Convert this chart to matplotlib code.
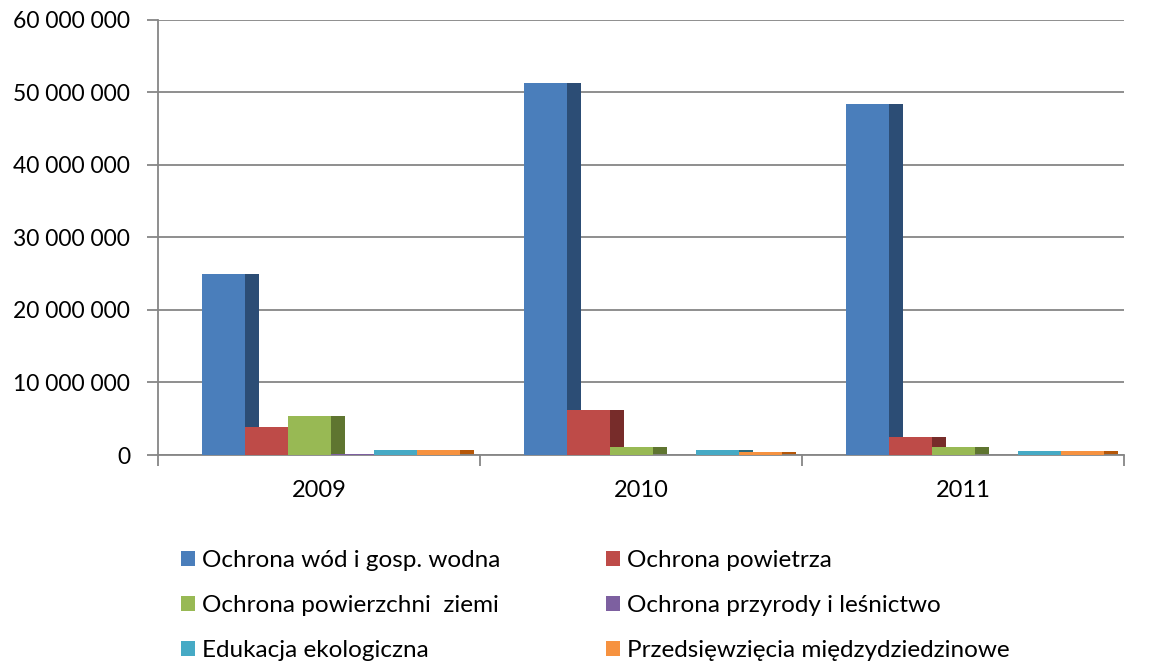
import numpy as np
import matplotlib.pyplot as plt
from matplotlib.ticker import FuncFormatter, MultipleLocator
from matplotlib.patches import Patch

plt.rcParams['font.family'] = ['Lato', 'DejaVu Sans']

years = ["2009", "2010", "2011"]
labels = ["Ochrona wód i gosp. wodna", "Ochrona powietrza",
          "Ochrona powierzchni  ziemi", "Ochrona przyrody i leśnictwo",
          "Edukacja ekologiczna", "Przedsięwzięcia międzydziedzinowe"]

woda = [24.9e6, 51.3e6, 48.4e6]
powietrze = [3.85e6, 6.2e6, 2.5e6]
ziemia = [5.4e6, 1.1e6, 1.1e6]
przyroda = [0.1e6, 0.05e6, 0.05e6]
edukacja = [0.7e6, 0.7e6, 0.5e6]
miedzy = [0.7e6, 0.35e6, 0.5e6]
series = [woda, powietrze, ziemia, przyroda, edukacja, miedzy]

front = ["#4A7EBB", "#BE4B48", "#98B954", "#7D60A0", "#46AAC5", "#F69240"]
side = ["#2C4D75", "#772C2A", "#5F7530", "#4D3B63", "#2B6A7C", "#B65708"]

fig = plt.figure(figsize=(11.56, 6.63), dpi=100)
ax = fig.add_axes([0.1367, 0.3137, 0.836, 0.6563])

x = np.arange(len(years))
w = 0.1335
d = 0.0435
start = -0.363
for k, vals in enumerate(series):
    left = x + start + k * w
    ax.bar(left + w, vals, width=d, align='edge', color=side[k], zorder=2, lw=0)
    ax.bar(left, vals, width=w, align='edge', color=front[k], zorder=3, lw=0)

ax.set_xlim(-0.5, 2.5)
ax.set_ylim(0, 60e6)
ax.yaxis.set_major_locator(MultipleLocator(10e6))
ax.yaxis.set_major_formatter(FuncFormatter(lambda v, p: f"{int(v):,}".replace(",", " ")))
ax.set_xticks(x)
ax.set_xticklabels(years)
ax.set_xticks([-0.5, 0.5, 1.5, 2.5], minor=True)
ax.tick_params(axis='x', which='major', length=0, pad=18, labelsize=17)
ax.tick_params(axis='x', which='minor', length=8, width=1.3, color="#868686")
ax.tick_params(axis='y', length=8, width=1.3, color="#868686", labelsize=16.5, pad=12)
ax.grid(axis='y', color="#868686", lw=1.3, zorder=0)
ax.set_axisbelow(True)
for s in ["top", "right"]:
    ax.spines[s].set_visible(False)
for s in ["left", "bottom"]:
    ax.spines[s].set_color("#868686")
    ax.spines[s].set_linewidth(1.3)

handles = [Patch(facecolor=c) for c in front]
order = [0, 2, 4, 1, 3, 5]
fig.legend([handles[i] for i in order], [labels[i] for i in order], ncol=2,
           loc='upper left', bbox_to_anchor=(0.138, 0.203), frameon=False,
           fontsize=17.5, handlelength=0.55, handleheight=0.55, handletextpad=0.3,
           columnspacing=4.35, labelspacing=0.98)

fig.savefig("out.png", dpi=100)
